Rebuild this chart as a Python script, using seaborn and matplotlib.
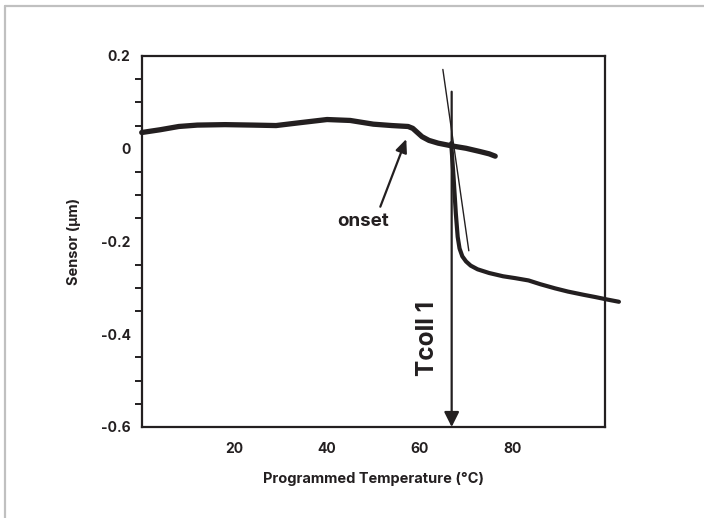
import matplotlib
matplotlib.use("Agg")
import matplotlib.pyplot as plt
import seaborn as sns
import pandas as pd
from matplotlib.lines import Line2D
from matplotlib.ticker import MultipleLocator

# heating branch (before collapse)
temp_heat = [0, 4, 8, 12, 18, 24, 29, 34, 40, 45, 50, 54, 57.5, 58.5, 59.5, 60.5, 62, 64, 67, 70, 73, 75, 76.3]
sensor_heat = [0.035, 0.041, 0.048, 0.051, 0.052, 0.051, 0.050, 0.056, 0.063, 0.061, 0.053, 0.050, 0.048, 0.044, 0.035, 0.026, 0.018, 0.012, 0.006, 0.001, -0.006, -0.011, -0.016]

# collapse branch
temp_drop = [66.8, 67.3, 67.8, 68.2, 68.6, 69.2, 70.0, 71.0, 72.5, 75, 78, 80.6, 83.5, 86, 89.2, 92, 95.4, 98, 100.4, 103]
sensor_drop = [0.012, -0.06, -0.14, -0.19, -0.215, -0.232, -0.243, -0.252, -0.260, -0.268, -0.275, -0.279, -0.284, -0.292, -0.301, -0.308, -0.315, -0.320, -0.325, -0.330]

# tangent line and Tcoll marker
tangent_temp = [65.0, 70.6]
tangent_sensor = [0.171, -0.22]
tcoll_temp = 66.9
tcoll_top = 0.123

x_ticks = [20, 40, 60, 80]
y_ticks = [-0.6, -0.4, -0.2, 0, 0.2]
y_tick_labels = ["-0.6", "-0.4", "-0.2", "0", "0.2"]

ink = "#231f20"

sns.set_style("white")
plt.rcParams["font.family"] = ["Inter", "DejaVu Sans"]
plt.rcParams["font.weight"] = "bold"

fig = plt.figure(figsize=(7.04, 5.18), dpi=100)
ax = fig.add_axes([0.2013, 0.1757, 0.6581, 0.7162])

heat = pd.DataFrame({"temp": temp_heat, "sensor": sensor_heat})
drop = pd.DataFrame({"temp": temp_drop, "sensor": sensor_drop})

sns.lineplot(data=heat, x="temp", y="sensor", color=ink, lw=3.8, ax=ax,
             sort=False, estimator=None, solid_capstyle="round",
             solid_joinstyle="round")
sns.lineplot(data=drop, x="temp", y="sensor", color=ink, lw=3.0, ax=ax,
             sort=False, estimator=None, solid_capstyle="round",
             solid_joinstyle="round")
for ln in ax.lines:
    ln.set_clip_on(False)

ax.plot(tangent_temp, tangent_sensor, color=ink, lw=1.0, clip_on=False)

ax.annotate("", xy=(tcoll_temp, -0.6), xytext=(tcoll_temp, tcoll_top),
            arrowprops=dict(arrowstyle="-|>,head_length=0.9,head_width=0.45",
                            color=ink, lw=1.6, shrinkA=0, shrinkB=0),
            annotation_clip=False)
ax.text(61.6, -0.408, "Tcoll 1", rotation=90, ha="center", va="center",
        fontsize=17.5, fontweight="bold", color=ink)

ax.annotate("", xy=(57.1, 0.021), xytext=(51.5, -0.125),
            arrowprops=dict(arrowstyle="-|>,head_length=0.8,head_width=0.35",
                            color=ink, lw=1.6, shrinkA=0, shrinkB=0))
ax.text(47.8, -0.156, "onset", ha="center", va="center", fontsize=13.5,
        fontweight="bold", color=ink)

ax.set_xlim(0, 100)
ax.set_ylim(-0.6, 0.2)
ax.set_xticks(x_ticks)
ax.set_xticklabels([str(t) for t in x_ticks])
ax.set_yticks(y_ticks)
ax.set_yticklabels(y_tick_labels)
ax.yaxis.set_minor_locator(MultipleLocator(0.05))

for s in ax.spines.values():
    s.set_color(ink)
    s.set_linewidth(1.6)

ax.tick_params(axis="both", which="major", direction="out", length=6, width=1.4,
               color=ink, labelcolor=ink, labelsize=10)
ax.tick_params(axis="y", which="major", pad=2)
ax.tick_params(axis="x", which="major", pad=5)
ax.tick_params(axis="y", which="minor", left=True, direction="out", length=5,
               width=1.4, color=ink)

ax.set_xlabel("Programmed Temperature (°C)", fontsize=10.5, fontweight="bold",
              color=ink, labelpad=11)
ax.set_ylabel("Sensor (μm)", fontsize=10.5, fontweight="bold", color=ink,
              labelpad=14)

# light frame around the figure
fig.add_artist(Line2D([0.0071, 1.0], [0.9875, 0.9875], color="#c0c0c0", lw=1.6))
fig.add_artist(Line2D([0.0071, 0.0071], [0.0, 0.9875], color="#c0c0c0", lw=1.6))

fig.savefig("out.png", dpi=100)
